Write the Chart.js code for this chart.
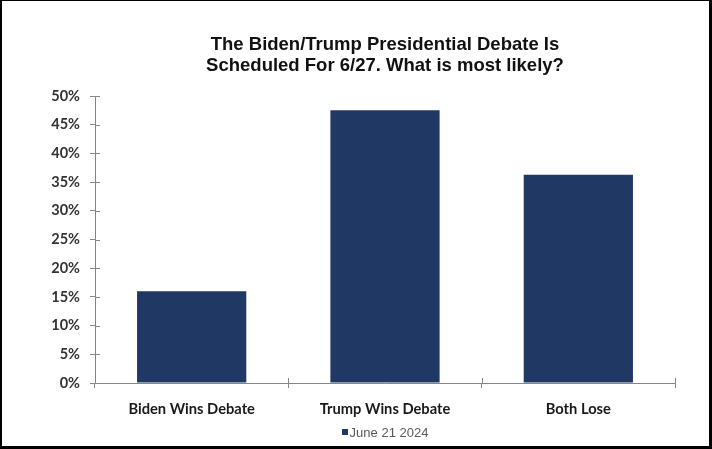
<!DOCTYPE html>
<html><head><meta charset="utf-8">
<script src="https://cdn.jsdelivr.net/npm/chart.js@4/dist/chart.umd.min.js"></script>
<style>
html,body{margin:0;padding:0;background:#fff;}
#wrap{position:absolute;left:0;top:0;width:712px;height:449px;box-sizing:border-box;border-style:solid;border-color:#000;border-width:1px 3px 3px 2px;background:#fff;}
canvas{display:block;}
</style></head><body>
<div id="wrap"><canvas id="c" width="707" height="445"></canvas></div>
<script>
const titleLines = ["The Biden/Trump Presidential Debate Is", "Scheduled For 6/27. What is most likely?"];
const categories = ["Biden Wins Debate", "Trump Wins Debate", "Both Lose"];
const seriesName = "June 21 2024";
const values = [16.0, 47.5, 36.3];
const yMin = 0, yMax = 50, yStep = 5;

const AXIS = "#868686";
const BAR = "#1F3864";

const decor = {
  id: "decor",
  afterDraw(chart) {
    const ctx = chart.ctx, ca = chart.chartArea;
    const xs = chart.scales.x, ys = chart.scales.y;
    ctx.save();
    ctx.strokeStyle = AXIS; ctx.lineWidth = 1;
    ctx.beginPath();
    ys.ticks.forEach(t => {
      const y = Math.round(ys.getPixelForValue(t.value)) + 0.5;
      ctx.moveTo(ca.left, y); ctx.lineTo(ca.left + 5, y);
    });
    for (let i = 0; i <= categories.length; i++) {
      const x = Math.round(xs.getPixelForValue(i - 0.5)) + 0.5;
      ctx.moveTo(x, ca.bottom); ctx.lineTo(x, ca.bottom - 5);
    }
    ctx.stroke();
    const cx = (ca.left + ca.right) / 2;
    ctx.fillStyle = "#111";
    ctx.font = "bold 18.5px 'Liberation Sans', Arial, sans-serif";
    ctx.textAlign = "center"; ctx.textBaseline = "alphabetic";
    ctx.fillText(titleLines[0], cx, 49);
    ctx.fillText(titleLines[1], cx, 70);
    ctx.font = "13px 'Liberation Sans', Arial, sans-serif";
    const tw = ctx.measureText(seriesName).width;
    const total = 6 + 2 + tw;
    const sx = cx - total / 2;
    ctx.fillStyle = BAR;
    ctx.fillRect(Math.round(sx), 428, 6, 6);
    ctx.fillStyle = "#595959";
    ctx.textAlign = "left";
    ctx.fillText(seriesName, sx + 8, 436);
    ctx.restore();
  }
};

new Chart(document.getElementById("c"), {
  type: "bar",
  data: {
    labels: categories,
    datasets: [{ label: seriesName, data: values, backgroundColor: BAR, borderWidth: 0,
      categoryPercentage: 1.0, barPercentage: 0.565 }]
  },
  options: {
    responsive: false, animation: false,
    layout: { padding: { top: 95, right: 34, left: 0, bottom: 0 } },
    plugins: { legend: { display: false }, title: { display: false }, tooltip: { enabled: false } },
    scales: {
      x: {
        afterFit(s) { s.height = 63; },
        grid: { display: true, offset: true, drawOnChartArea: false, drawTicks: true, tickLength: 5, color: AXIS },
        border: { display: true, color: AXIS, width: 1 },
        ticks: { color: "#1a1a1a", font: { family: "Lato", weight: "bold", size: 14.7 }, padding: 12, maxRotation: 0 }
      },
      y: {
        min: yMin, max: yMax,
        afterFit(s) { s.width = 93; },
        grid: { display: true, drawOnChartArea: false, drawTicks: true, tickLength: 5, color: AXIS },
        border: { display: true, color: AXIS, width: 1 },
        ticks: { stepSize: yStep, color: "#333333", font: { family: "Lato", weight: "bold", size: 14.5 }, padding: 10,
          callback: v => v + "%" }
      }
    }
  },
  plugins: [decor]
});
</script>
</body></html>
